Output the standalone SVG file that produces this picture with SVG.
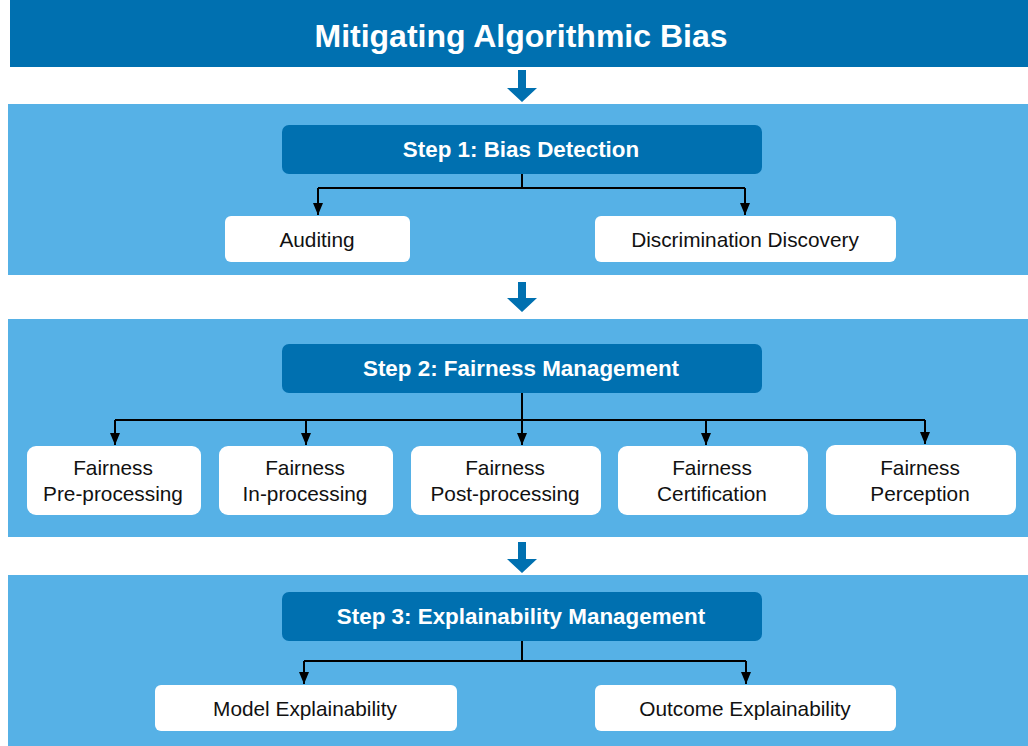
<svg xmlns="http://www.w3.org/2000/svg" width="1028" height="746" viewBox="0 0 1028 746">
<defs>
<style>
.panel{fill:#56B1E6}
.step{fill:#0070B0}
.leaf{fill:#FFFFFF}
.stepText{font-family:"Liberation Sans",Arial,sans-serif;font-weight:bold;font-size:22.4px;fill:#FFFFFF;text-anchor:middle}
.leafText{font-family:"Liberation Sans",Arial,sans-serif;font-size:20.8px;fill:#111111;text-anchor:middle}
.conn{fill:none;stroke:#000000;stroke-width:2}
.bigArrow{fill:#0070B0}
</style>
<marker id="ah" markerWidth="12" markerHeight="10" refX="12" refY="5" orient="auto" markerUnits="userSpaceOnUse" viewBox="0 0 12 10">
<path d="M0,0 L12,5 L0,10 Z" fill="#000000"/>
</marker>
</defs>
<rect width="1028" height="746" fill="#FFFFFF"/>

<g id="title">
<rect x="10" y="0" width="1018" height="67" fill="#0070B0"/>
<text x="521" y="47" font-family="Liberation Sans, Arial, sans-serif" font-weight="bold" font-size="32" fill="#FFFFFF" text-anchor="middle">Mitigating Algorithmic Bias</text>
</g>

<g id="panels">
<rect class="panel" x="8" y="104" width="1020" height="171"/>
<rect class="panel" x="8" y="319" width="1020" height="218"/>
<rect class="panel" x="8" y="575" width="1020" height="171"/>
</g>

<g id="flowArrows">
<path class="bigArrow" d="M518,70 H526 V88 H537 L522,102 L507,88 H518 Z"/>
<path class="bigArrow" d="M518,282 H526 V298 H537 L522,312 L507,298 H518 Z"/>
<path class="bigArrow" d="M518,542 H526 V559 H537 L522,573 L507,559 H518 Z"/>
</g>

<g id="step1">
<rect class="step" x="282" y="125" width="480" height="49" rx="7"/>
<text class="stepText" x="521" y="157">Step 1: Bias Detection</text>
</g>
<g id="auditing">
<rect class="leaf" x="225" y="216" width="185" height="46" rx="6"/>
<text class="leafText" x="317" y="247">Auditing</text>
</g>
<g id="discrimination">
<rect class="leaf" x="595" y="216" width="301" height="46" rx="6"/>
<text class="leafText" x="745" y="247">Discrimination Discovery</text>
</g>

<g id="step2">
<rect class="step" x="282" y="344" width="480" height="49" rx="7"/>
<text class="stepText" x="521" y="376">Step 2: Fairness Management</text>
</g>
<g id="pre">
<rect class="leaf" x="27" y="446" width="174" height="69" rx="9"/>
<text class="leafText" x="113" y="475">Fairness</text>
<text class="leafText" x="113" y="501">Pre-processing</text>
</g>
<g id="in">
<rect class="leaf" x="219" y="446" width="174" height="69" rx="9"/>
<text class="leafText" x="305" y="475">Fairness</text>
<text class="leafText" x="305" y="501">In-processing</text>
</g>
<g id="post">
<rect class="leaf" x="411" y="446" width="190" height="69" rx="9"/>
<text class="leafText" x="505" y="475">Fairness</text>
<text class="leafText" x="505" y="501">Post-processing</text>
</g>
<g id="cert">
<rect class="leaf" x="618" y="446" width="190" height="69" rx="9"/>
<text class="leafText" x="712" y="475">Fairness</text>
<text class="leafText" x="712" y="501">Certification</text>
</g>
<g id="perc">
<rect class="leaf" x="826" y="445" width="190" height="70" rx="9"/>
<text class="leafText" x="920" y="475">Fairness</text>
<text class="leafText" x="920" y="501">Perception</text>
</g>

<g id="step3">
<rect class="step" x="282" y="592" width="480" height="49" rx="7"/>
<text class="stepText" x="521" y="624">Step 3: Explainability Management</text>
</g>
<g id="model">
<rect class="leaf" x="155" y="685" width="302" height="46" rx="6"/>
<text class="leafText" x="305" y="716">Model Explainability</text>
</g>
<g id="outcome">
<rect class="leaf" x="595" y="685" width="301" height="46" rx="6"/>
<text class="leafText" x="745" y="716">Outcome Explainability</text>
</g>

<g id="connectors">
<path class="conn" d="M522,174 V188"/>
<path class="conn" d="M318,188 H745"/>
<path class="conn" d="M318,188 V215" marker-end="url(#ah)"/>
<path class="conn" d="M745,188 V215" marker-end="url(#ah)"/>

<path class="conn" d="M522,393 V420"/>
<path class="conn" d="M115,420 H925"/>
<path class="conn" d="M115,420 V445" marker-end="url(#ah)"/>
<path class="conn" d="M306,420 V445" marker-end="url(#ah)"/>
<path class="conn" d="M522,420 V445" marker-end="url(#ah)"/>
<path class="conn" d="M706,420 V445" marker-end="url(#ah)"/>
<path class="conn" d="M925,420 V444" marker-end="url(#ah)"/>

<path class="conn" d="M522,641 V661"/>
<path class="conn" d="M304,661 H746"/>
<path class="conn" d="M304,661 V684" marker-end="url(#ah)"/>
<path class="conn" d="M746,661 V684" marker-end="url(#ah)"/>
</g>
</svg>
